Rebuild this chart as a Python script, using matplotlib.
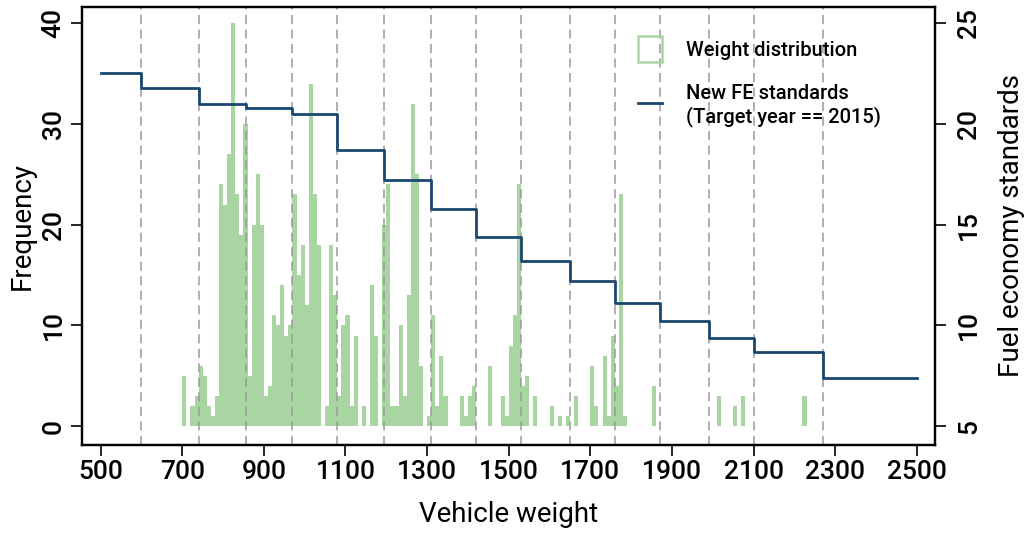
import matplotlib
matplotlib.use("Agg")
import matplotlib.pyplot as plt
from matplotlib.lines import Line2D
from matplotlib.patches import Patch

plt.rcParams["font.family"] = ["Roboto", "DejaVu Sans"]
plt.rcParams["font.weight"] = "medium"

# histogram of vehicle weights, 10 kg bins (left edge, count)
bin_left = [700, 720, 730, 740, 750, 760, 770, 780, 790, 800, 810, 820, 830, 840,
            850, 860, 870, 880, 890, 900, 910, 920, 930, 940, 950, 960, 970, 980,
            990, 1000, 1010, 1020, 1030, 1050, 1060, 1070, 1080, 1090, 1100, 1110,
            1120, 1140, 1160, 1170, 1190, 1200, 1210, 1220, 1230, 1240, 1250, 1260,
            1270, 1280, 1300, 1310, 1320, 1330, 1340, 1380, 1390, 1400, 1410, 1450,
            1480, 1490, 1500, 1510, 1520, 1530, 1540, 1560, 1600, 1620, 1640, 1660,
            1700, 1710, 1730, 1740, 1750, 1760, 1770, 1780, 1850, 2010, 2050, 2070,
            2220]
counts = [5, 2, 3, 6, 5, 2, 1, 3, 24, 22, 27, 40, 23, 19,
          30, 5, 20, 25, 20, 3, 4, 11, 10, 14, 9, 10, 23, 15,
          18, 12, 34, 23, 18, 2, 18, 13, 3, 10, 11, 2,
          9, 2, 14, 9, 20, 24, 2, 2, 10, 3, 13, 32,
          25, 6, 1, 11, 2, 7, 3, 3, 1, 3, 4, 6,
          3, 1, 8, 11, 24, 4, 5, 3, 2, 1, 1, 3,
          6, 2, 7, 1, 9, 4, 23, 1, 4, 3, 2, 3,
          3]
bin_width = 10

# 2015 fuel economy standard (km/L) by weight class
class_edges = [500, 600, 740, 855, 970, 1080, 1195, 1310, 1420, 1530, 1650,
               1760, 1870, 1990, 2100, 2270, 2500]
fe_standard = [22.5, 21.8, 21.0, 20.8, 20.5, 18.7, 17.2, 15.8, 14.4, 13.2,
               12.2, 11.1, 10.2, 9.4, 8.7, 7.4]

x_ticks = list(range(500, 2501, 200))
left_ticks = [0, 10, 20, 30, 40]
right_ticks = [5, 10, 15, 20, 25]

bar_color = "#a9d5a2"
line_color = "#1a476f"
grid_color = "#9a9a9a"

fig = plt.figure(figsize=(10.25, 5.33), dpi=100)
ax = fig.add_axes([0.0803, 0.165, 0.832, 0.822])

ax.bar(bin_left, counts, width=bin_width, align="edge", color=bar_color,
       linewidth=0, zorder=1)

for edge in class_edges[1:-1]:
    ax.axvline(edge, color=grid_color, linestyle=(0, (6, 3.5)), linewidth=1.1,
               zorder=2)

ylo, yhi = -1.86, 41.6
ax.set_xlim(455, 2545)
ax.set_ylim(ylo, yhi)
ax.set_xticks(x_ticks)
ax.set_yticks(left_ticks)
ax.set_xlabel("Vehicle weight", fontsize=20, labelpad=12)
ax.set_ylabel("Frequency", fontsize=20, labelpad=4)

ax2 = ax.twinx()
fe_y = fe_standard + [fe_standard[-1]]
ax2.step(class_edges, fe_y, where="post", color=line_color, linewidth=2,
         zorder=3)
ax2.set_ylim(5 + ylo / 2, 5 + yhi / 2)
ax2.set_yticks(right_ticks)
ax2.set_ylabel("Fuel economy standards", fontsize=20, labelpad=12)

for a in (ax, ax2):
    for s in a.spines.values():
        s.set_linewidth(1.6)
    a.tick_params(length=8, width=1.2, labelsize=19)
ax.tick_params(axis="x", pad=3)
ax.tick_params(axis="y", labelrotation=90, pad=4)
ax2.tick_params(axis="y", labelrotation=90, pad=8)
for lab in ax.get_yticklabels() + ax2.get_yticklabels():
    lab.set_va("center")

handles = [
    Patch(facecolor="none", edgecolor=bar_color, linewidth=1.8),
    Line2D([], [], color=line_color, linewidth=2),
]
labels = ["Weight distribution", "New FE standards\n(Target year == 2015)"]
ax2.legend(handles, labels, loc="upper left", bbox_to_anchor=(0.63, 0.975),
           frameon=False, fontsize=14.5, handlelength=1.2, handleheight=1.6,
           handletextpad=1.2, labelspacing=1.1)

fig.savefig("out.png", dpi=100)
